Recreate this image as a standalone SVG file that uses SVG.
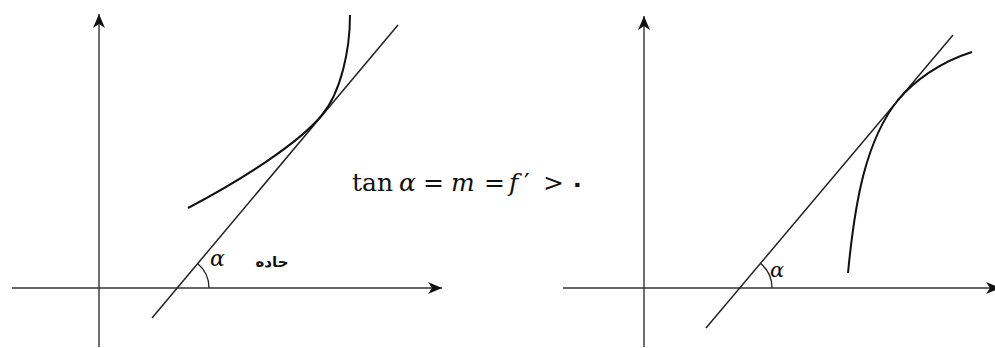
<svg xmlns="http://www.w3.org/2000/svg" width="995" height="348" viewBox="0 0 995 348">
<style>
.axis{stroke:#333;stroke-width:1.4;fill:none}
.tan{stroke:#222;stroke-width:1.5;fill:none}
.curve{stroke:#111;stroke-width:2;fill:none}
.arc{stroke:#222;stroke-width:1.3;fill:none}
.math{font-family:"DejaVu Serif","Liberation Serif",serif;fill:#111}
.ar{font-family:"DejaVu Sans","Noto Sans",sans-serif;fill:#111}
</style>
<defs>
<marker id="arr" markerUnits="userSpaceOnUse" markerWidth="16" markerHeight="14" refX="14" refY="7" orient="auto">
<path d="M0,1 L14,7 L0,13 L4,7 z" fill="#111"/>
</marker>
</defs>
<rect width="995" height="348" fill="#fff"/>
<g id="left-graph">
<g id="left-axes">
<line class="axis" x1="99" y1="347" x2="99" y2="14" marker-end="url(#arr)"/>
<line class="axis" x1="12" y1="288" x2="442" y2="288" marker-end="url(#arr)"/>
</g>
<g id="left-tangent"><line class="tan" x1="152" y1="318" x2="398" y2="25"/></g>
<g id="left-curve"><path class="curve" d="M188,208 C245,178 300,142 322,115 C341,92 350,50 350,15"/></g>
<g id="left-angle"><path class="arc" d="M209,288 A32,32 0 0 0 197.6,263.5"/>
<text class="math" x="210" y="266" font-size="22" font-style="italic">α</text>
<text class="ar" x="272" y="267" font-size="15" font-weight="bold" text-anchor="middle">حاده</text></g>
</g>
<g id="equation">
<text class="math" y="191" font-size="25"><tspan x="352">tan</tspan><tspan x="399" font-style="italic">α</tspan><tspan x="423">=</tspan><tspan x="451" font-style="italic">m</tspan><tspan x="484">=</tspan><tspan x="509" font-style="italic">f</tspan><tspan x="524">′</tspan><tspan x="543">&gt;</tspan></text>
<text class="ar" x="570" y="192" font-size="24" font-weight="bold">٠</text>
</g>
<g id="right-graph">
<g id="right-axes">
<line class="axis" x1="644" y1="347" x2="644" y2="16" marker-end="url(#arr)"/>
<line class="axis" x1="563" y1="288" x2="1000" y2="288" marker-end="url(#arr)"/>
</g>
<g id="right-tangent"><line class="tan" x1="706" y1="328" x2="953" y2="35"/></g>
<g id="right-curve"><path class="curve" d="M848,273 C855,200 866,140 898,100 C914,81 940,62 972,52"/></g>
<g id="right-angle"><path class="arc" d="M772,288 A32,32 0 0 0 760.6,263.5"/>
<text class="math" x="770" y="277" font-size="21" font-style="italic">α</text></g>
</g>
</svg>
